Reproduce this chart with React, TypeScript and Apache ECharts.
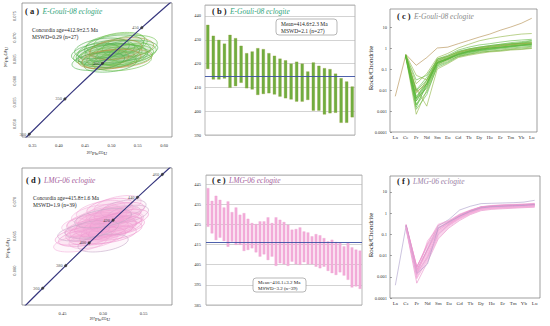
import { useEffect, useRef } from 'react';
import * as echarts from 'echarts';

const FONT = '"Liberation Serif", "DejaVu Serif", serif';

const reeElements = ['La', 'Ce', 'Pr', 'Nd', 'Sm', 'Eu', 'Gd', 'Tb', 'Dy', 'Ho', 'Er', 'Tm', 'Yb', 'Lu'];

// Concordia curve (age Ma, 207Pb/235U, 206Pb/238U)
const concAges = [280, 300, 340, 350, 360, 380, 400, 420, 440, 450, 460, 480, 500];
const concX = [0.31752, 0.34374, 0.39773, 0.41156, 0.42553, 0.45389, 0.48281, 0.51231, 0.54239, 0.55766, 0.57307, 0.60437, 0.63628];
const concY = [0.044392, 0.047637, 0.054158, 0.055795, 0.057434, 0.060719, 0.064016, 0.067322, 0.070638, 0.0723, 0.073965, 0.077302, 0.08065];
const concLabelsA = [300, 350, 400, 450];
const concLabelsD = [360, 380, 400, 420, 440, 460];

// error ellipses: [207/235, 206/238, sigmaX, sigmaY, rho]
const ellipsesA = [
  [0.5, 0.0662, 0.058, 0.0024, 0.3], [0.512, 0.0668, 0.062, 0.0026, 0.25], [0.488, 0.0655, 0.055, 0.0022, 0.35],
  [0.52, 0.0675, 0.06, 0.0025, 0.3], [0.495, 0.0648, 0.052, 0.0021, 0.3], [0.53, 0.067, 0.058, 0.0024, 0.28],
  [0.478, 0.066, 0.05, 0.0023, 0.32], [0.505, 0.068, 0.056, 0.0026, 0.3], [0.515, 0.0652, 0.062, 0.0022, 0.25],
  [0.49, 0.067, 0.054, 0.0024, 0.35], [0.525, 0.066, 0.055, 0.0023, 0.3], [0.498, 0.064, 0.05, 0.002, 0.3],
  [0.51, 0.0685, 0.058, 0.0024, 0.28], [0.485, 0.065, 0.048, 0.0021, 0.33], [0.535, 0.068, 0.052, 0.0025, 0.3],
  [0.503, 0.0658, 0.066, 0.0027, 0.25], [0.52, 0.0645, 0.056, 0.0022, 0.3], [0.47, 0.0665, 0.046, 0.0022, 0.35],
  [0.508, 0.0672, 0.05, 0.0023, 0.3], [0.493, 0.0662, 0.06, 0.0025, 0.3], [0.528, 0.0655, 0.05, 0.0021, 0.28],
  [0.482, 0.0675, 0.052, 0.0024, 0.32], [0.515, 0.069, 0.048, 0.0022, 0.3], [0.5, 0.065, 0.056, 0.0023, 0.3],
  [0.54, 0.0665, 0.045, 0.0022, 0.3], [0.475, 0.0645, 0.05, 0.0021, 0.35], [0.512, 0.066, 0.054, 0.0024, 0.28],
];
const ellipsesD = [
  [0.5, 0.0668, 0.033, 0.0014, 0.45], [0.485, 0.0655, 0.031, 0.0013, 0.45], [0.515, 0.068, 0.032, 0.0014, 0.45],
  [0.495, 0.066, 0.036, 0.0015, 0.4], [0.52, 0.0672, 0.03, 0.0013, 0.45], [0.478, 0.0648, 0.033, 0.0013, 0.45],
  [0.508, 0.0685, 0.029, 0.0014, 0.5], [0.49, 0.067, 0.035, 0.0014, 0.4], [0.525, 0.069, 0.028, 0.0013, 0.45],
  [0.505, 0.0658, 0.032, 0.0013, 0.45], [0.472, 0.064, 0.033, 0.0013, 0.45], [0.512, 0.0665, 0.036, 0.0015, 0.4],
  [0.498, 0.0678, 0.031, 0.0014, 0.45], [0.482, 0.0662, 0.029, 0.0013, 0.5], [0.53, 0.0682, 0.026, 0.0013, 0.45],
  [0.493, 0.065, 0.035, 0.0013, 0.4], [0.518, 0.0695, 0.029, 0.0014, 0.45], [0.502, 0.0674, 0.033, 0.0014, 0.45],
  [0.488, 0.0645, 0.03, 0.0013, 0.45], [0.51, 0.0662, 0.031, 0.0014, 0.45], [0.476, 0.0656, 0.032, 0.0013, 0.45],
  [0.522, 0.0665, 0.029, 0.0013, 0.4], [0.497, 0.0688, 0.03, 0.0014, 0.5], [0.506, 0.0652, 0.035, 0.0013, 0.45],
  [0.484, 0.0672, 0.028, 0.0013, 0.45], [0.515, 0.0658, 0.033, 0.0014, 0.45], [0.5, 0.064, 0.031, 0.0013, 0.4],
  [0.528, 0.0676, 0.028, 0.0013, 0.45], [0.492, 0.0682, 0.031, 0.0014, 0.45], [0.47, 0.065, 0.029, 0.0013, 0.45],
  [0.512, 0.0678, 0.034, 0.0014, 0.45], [0.503, 0.0664, 0.038, 0.0015, 0.4], [0.486, 0.066, 0.033, 0.0013, 0.45],
  [0.52, 0.0685, 0.031, 0.0014, 0.5], [0.495, 0.0654, 0.033, 0.0013, 0.45], [0.508, 0.0692, 0.028, 0.0013, 0.45],
  [0.48, 0.0668, 0.031, 0.0013, 0.45], [0.516, 0.067, 0.032, 0.0014, 0.45], [0.5, 0.0676, 0.035, 0.0014, 0.45],
];

// 206Pb/238U ages (Ma), error bars
const lowB = [417.8, 413.4, 413.4, 413.8, 409.9, 410.6, 412.0, 409.7, 409.2, 406.9, 407.3, 407.6, 407.1, 406.2, 405.5, 405.0, 404.1, 404.1, 404.8, 400.3, 400.3, 398.7, 399.2, 399.4, 395.2, 395.2, 397.5];
const highB = [436.2, 431.6, 429.9, 428.3, 432.0, 430.6, 427.4, 424.3, 425.0, 426.4, 426.0, 424.3, 423.2, 422.0, 421.3, 419.9, 420.7, 419.9, 416.6, 420.4, 419.0, 418.0, 417.6, 415.7, 413.8, 412.4, 410.3];
const meanB = 414.6;
const lowE = [423.9, 420.6, 417.3, 418.5, 416.8, 414.0, 416.5, 414.9, 414.9, 411.9, 412.4, 413.2, 411.2, 409.1, 410.2, 407.4, 409.1, 404.5, 405.8, 405.3, 404.5, 406.6, 405.3, 405.0, 406.3, 405.3, 405.3, 404.1, 403.3, 404.1, 402.0, 400.9, 400.0, 401.3, 399.7, 397.6, 393.8, 394.3, 393.1];
const highE = [442.9, 436.6, 439.1, 437.1, 433.3, 436.3, 431.0, 433.3, 429.7, 430.5, 427.7, 425.6, 425.1, 426.4, 426.4, 428.4, 425.6, 428.4, 427.2, 426.1, 424.7, 422.3, 422.6, 423.4, 421.4, 420.9, 419.0, 420.1, 419.5, 418.1, 416.5, 417.3, 416.2, 415.7, 414.0, 415.7, 413.5, 412.4, 411.9];
const meanE = 416.1;

// Chondrite-normalised REE patterns
const reeC = [
  [null, 0.5, 0.15, 0.35, 1.0, 1.1, 1.6, 2.3, 3.3, 4.6, 7, 10, 15, 26],
  [null, 0.45, 0.02, 0.06, 0.35, 0.55, 1.0, 1.5, 2.2, 2.8, 3.4, 4.0, 4.6, 4.9],
  [0.005, 0.45, 0.008, 0.02, 0.2, 0.3, 0.5, 0.7, 0.9, 1.0, 1.2, 1.4, 1.6, 1.8],
  [null, 0.4, 0.003, 0.015, 0.22, 0.3, 0.55, 0.75, 0.9, 1.1, 1.3, 1.5, 1.7, 2.0],
  [null, 0.42, 0.005, 0.02, 0.18, 0.28, 0.45, 0.6, 0.75, 0.85, 1.0, 1.1, 1.3, 1.4],
  [null, 0.38, 0.0007, 0.01, 0.15, 0.25, 0.4, 0.5, 0.65, 0.7, 0.8, 0.9, 1.0, 1.1],
  [null, 0.45, 0.004, 0.03, 0.25, 0.35, 0.6, 0.8, 1.0, 1.2, 1.4, 1.6, 1.8, 2.2],
  [null, 0.4, 0.01, 0.04, 0.3, 0.4, 0.7, 0.9, 1.1, 1.3, 1.5, 1.8, 2.0, 2.3],
  [null, 0.35, 0.002, 0.008, 0.12, 0.2, 0.38, 0.5, 0.6, 0.7, 0.75, 0.85, 0.9, 1.0],
  [null, 0.4, 0.012, 0.0017, 0.1, 0.18, 0.35, 0.45, 0.55, 0.65, 0.7, 0.8, 0.85, 0.95],
  [null, 0.45, 0.03, 0.05, 0.25, 0.4, 0.65, 0.9, 1.1, 1.3, 1.5, 1.6, 1.7, 1.8],
  [null, 0.5, 0.0015, 0.02, 0.2, 0.32, 0.55, 0.7, 0.85, 1.0, 1.1, 1.2, 1.4, 1.5],
  [null, 0.42, 0.004, 0.012, 0.16, 0.3, 0.5, 0.65, 0.8, 0.9, 1.05, 1.2, 1.35, 1.5],
  [null, 0.48, 0.007, 0.025, 0.22, 0.35, 0.6, 0.85, 1.05, 1.2, 1.35, 1.5, 1.6, 1.7],
  [null, 0.4, 0.003, 0.02, 0.3, 0.45, 0.8, 1.1, 1.4, 1.6, 1.9, 2.2, 2.4, 2.6],
  [null, 0.44, 0.002, 0.015, 0.18, 0.28, 0.48, 0.62, 0.78, 0.9, 1.0, 1.15, 1.25, 1.3],
  [null, 0.46, 0.009, 0.03, 0.2, 0.3, 0.5, 0.7, 0.85, 1.0, 1.1, 1.25, 1.4, 1.6],
  [null, 0.5, 0.05, 0.03, 0.28, 0.4, 0.65, 0.8, 0.95, 1.1, 1.25, 1.4, 1.55, 1.7],
  [null, 0.38, 0.0012, 0.006, 0.14, 0.22, 0.42, 0.55, 0.7, 0.8, 0.9, 1.0, 1.1, 1.2],
  [null, 0.45, 0.004, 0.02, 0.2, 0.33, 0.5, 0.68, 0.85, 0.98, 1.1, 1.3, 1.4, 1.55],
];
const reeF = [
  [null, 0.25, 0.002, 0.02, 0.25, 0.5, 1.4, 2.1, 2.8, 2.9, 3.0, 3.1, 3.3, 4.0],
  [0.0004, 0.25, 0.0015, 0.008, 0.1, 0.3, 0.7, 1.3, 2.0, 2.2, 2.3, 2.4, 2.5, 2.6],
  [null, 0.22, 0.0012, 0.01, 0.12, 0.3, 0.6, 1.1, 1.6, 1.8, 1.9, 2.0, 2.1, 2.2],
  [null, 0.28, 0.003, 0.03, 0.2, 0.4, 0.8, 1.3, 1.9, 2.1, 2.2, 2.3, 2.4, 2.6],
  [null, 0.2, 0.0008, 0.006, 0.08, 0.25, 0.55, 1.0, 1.5, 1.7, 1.8, 1.9, 2.0, 2.1],
  [null, 0.25, 0.002, 0.015, 0.15, 0.35, 0.7, 1.2, 1.8, 2.0, 2.1, 2.2, 2.3, 2.4],
  [null, 0.18, 0.0005, 0.005, 0.06, 0.2, 0.45, 0.85, 1.3, 1.5, 1.6, 1.7, 1.8, 1.9],
  [null, 0.3, 0.0025, 0.04, 0.3, 0.45, 0.9, 1.4, 2.0, 2.3, 2.5, 2.6, 2.7, 2.9],
  [null, 0.22, 0.0018, 0.012, 0.1, 0.28, 0.6, 1.05, 1.6, 1.85, 2.0, 2.1, 2.2, 2.3],
  [null, 0.26, 0.0015, 0.02, 0.18, 0.38, 0.75, 1.25, 1.85, 2.05, 2.15, 2.25, 2.35, 2.5],
  [null, 0.2, 0.001, 0.008, 0.09, 0.26, 0.55, 0.95, 1.45, 1.65, 1.75, 1.85, 1.95, 2.0],
  [null, 0.24, 0.003, 0.025, 0.22, 0.4, 0.8, 1.3, 1.9, 2.15, 2.3, 2.4, 2.5, 2.7],
  [null, 0.27, 0.0022, 0.018, 0.16, 0.34, 0.68, 1.15, 1.7, 1.95, 2.05, 2.15, 2.25, 2.4],
  [null, 0.21, 0.0012, 0.05, 0.2, 0.32, 0.65, 1.1, 1.65, 1.9, 2.0, 2.1, 2.2, 2.3],
  [null, 0.23, 0.0016, 0.01, 0.13, 0.3, 0.62, 1.08, 1.62, 1.85, 1.95, 2.05, 2.15, 2.3],
  [null, 0.29, 0.0028, 0.035, 0.27, 0.42, 0.85, 1.35, 1.95, 2.2, 2.4, 2.5, 2.6, 2.8],
  [null, 0.19, 0.0009, 0.007, 0.07, 0.22, 0.5, 0.9, 1.4, 1.6, 1.7, 1.8, 1.9, 2.0],
  [null, 0.25, 0.002, 0.014, 0.14, 0.33, 0.66, 1.12, 1.68, 1.9, 2.0, 2.1, 2.2, 2.35],
  [null, 0.26, 0.0014, 0.004, 0.2, 0.38, 0.72, 1.2, 1.75, 2.0, 2.1, 2.2, 2.3, 2.5],
  [null, 0.22, 0.0013, 0.009, 0.11, 0.27, 0.58, 1.0, 1.55, 1.75, 1.85, 1.95, 2.05, 2.15],
];

const TEAL = '#33a57c';
const MAUVE = '#a65f9d';

function ellipseSeries(idx: number, data: number[][], colorFn: (i: number) => string, fill: string) {
  return {
    type: 'custom',
    xAxisIndex: idx,
    yAxisIndex: idx,
    clip: true,
    data,
    renderItem: (params: any, api: any) => {
      const cx = api.value(0), cy = api.value(1), sx = api.value(2), sy = api.value(3), r = api.value(4);
      const pts: number[][] = [];
      const q = Math.sqrt(1 - r * r);
      for (let k = 0; k < 60; k++) {
        const t = (k / 60) * Math.PI * 2;
        pts.push(api.coord([cx + sx * Math.cos(t), cy + sy * (r * Math.cos(t) + q * Math.sin(t))]));
      }
      return {
        type: 'polygon',
        shape: { points: pts },
        style: { fill, stroke: colorFn(params.dataIndex), lineWidth: 0.6 },
      };
    },
  };
}

function barSeries(idx: number, low: number[], high: number[], mean: number, fill: string, stroke: string, frac: number) {
  return {
    type: 'custom',
    xAxisIndex: idx,
    yAxisIndex: idx,
    data: low.map((lo, i) => [i, lo, high[i]]),
    renderItem: (params: any, api: any) => {
      const top = api.coord([api.value(0), api.value(2)]);
      const bot = api.coord([api.value(0), api.value(1)]);
      const w = api.size([1, 0])[0] * frac;
      return {
        type: 'rect',
        shape: { x: top[0] - w / 2, y: top[1], width: w, height: bot[1] - top[1] },
        style: { fill, stroke, lineWidth: 0.3 },
      };
    },
    markLine: {
      silent: true,
      symbol: 'none',
      label: { show: false },
      lineStyle: { color: '#3a4fa3', width: 0.9, type: 'solid' },
      data: [{ yAxis: mean }],
    },
  };
}

function concordia(idx: number, labels: number[]) {
  return [
    {
      type: 'line',
      xAxisIndex: idx,
      yAxisIndex: idx,
      symbol: 'none',
      lineStyle: { color: '#38387f', width: 1.2 },
      data: concAges.map((_, i) => [concX[i], concY[i]]),
      z: 5,
    },
    {
      type: 'scatter',
      xAxisIndex: idx,
      yAxisIndex: idx,
      symbol: 'circle',
      symbolSize: 2.6,
      itemStyle: { color: '#333', borderColor: '#222', borderWidth: 0.4 },
      label: { show: true, position: 'left', distance: 1.5, fontSize: 4.5, color: '#222', fontFamily: FONT, formatter: (p: any) => String(p.value[2]) },
      data: labels.map((a) => {
        const i = concAges.indexOf(a);
        return [concX[i], concY[i], a];
      }),
      z: 6,
    },
  ];
}

function reeSeries(idx: number, rows: (number | null)[][], colorFn: (i: number) => string) {
  return rows.map((row, i) => ({
    type: 'line',
    xAxisIndex: idx,
    yAxisIndex: idx,
    symbol: 'none',
    connectNulls: false,
    lineStyle: { color: colorFn(i), width: 0.6 },
    data: row.map((v) => (v == null ? '-' : v)),
  }));
}

const tickLabel = { fontSize: 4.5, color: '#333', fontFamily: FONT };

function titleText(x: number, y: number, letter: string, name: string, color: string) {
  return {
    type: 'text',
    x,
    y,
    z: 100,
    style: {
      text: `{p|( ${letter} )} {n|${name}}`,
      verticalAlign: 'middle',
      rich: {
        p: { fontSize: 8.5, fontFamily: FONT, fill: '#222', fontWeight: 'bold' },
        n: { fontSize: 7.5, fontFamily: FONT, fill: color, fontStyle: 'italic' },
      },
    },
  };
}

function plainText(x: number, y: number, text: string, size: number, extra: any = {}) {
  return {
    type: 'text',
    x,
    y,
    z: 100,
    ...extra,
    style: { text, fontSize: size, fontFamily: FONT, fill: '#222', verticalAlign: 'middle', ...(extra.style || {}) },
  };
}

export default function App() {
  const ref = useRef<HTMLDivElement>(null);
  useEffect(() => {
    if (!ref.current) return;
    const chart = echarts.init(ref.current, undefined, { renderer: 'svg' });
    const gridStyle = { show: true, borderColor: '#777', borderWidth: 0.7, backgroundColor: 'transparent' };
    const option: any = {
      animation: false,
      backgroundColor: '#fff',
      textStyle: { fontFamily: FONT },
      grid: [
        { left: 22, top: 3, width: 150, height: 134, ...gridStyle },
        { left: 205, top: 5, width: 150, height: 130, ...gridStyle, borderColor: '#999' },
        { left: 390, top: 9, width: 147, height: 123, ...gridStyle },
        { left: 22, top: 168, width: 150, height: 137, ...gridStyle },
        { left: 206, top: 175, width: 156, height: 130, ...gridStyle, borderColor: '#999' },
        { left: 390, top: 176, width: 150, height: 122, ...gridStyle },
      ],
      xAxis: [
        {
          gridIndex: 0, type: 'value', min: 0.33, max: 0.615, interval: 0.01,
          axisLine: { show: false }, axisTick: { show: false }, splitLine: { show: false },
          axisLabel: { ...tickLabel, margin: 6, formatter: (v: number) => (Math.round(v * 100) % 5 === 0 ? v.toFixed(2) : '') },
        },
        {
          gridIndex: 1, type: 'category', data: lowB.map((_, i) => String(i + 1)), boundaryGap: true,
          axisLine: { show: false }, axisTick: { show: false }, axisLabel: { show: false },
        },
        {
          gridIndex: 2, type: 'category', data: reeElements, boundaryGap: true,
          axisLine: { show: false }, axisTick: { show: false },
          axisLabel: { fontSize: 5, color: '#333', fontFamily: FONT, margin: 3, interval: 0 },
        },
        {
          gridIndex: 3, type: 'value', min: 0.4, max: 0.585, interval: 0.05,
          axisLine: { show: false }, axisTick: { show: false }, splitLine: { show: false },
          axisLabel: { ...tickLabel, margin: 6, showMinLabel: false, showMaxLabel: false, formatter: (v: number) => v.toFixed(2) },
        },
        {
          gridIndex: 4, type: 'category', data: lowE.map((_, i) => String(i + 1)), boundaryGap: true,
          axisLine: { show: false }, axisTick: { show: false }, axisLabel: { show: false },
        },
        {
          gridIndex: 5, type: 'category', data: reeElements, boundaryGap: true,
          axisLine: { show: false }, axisTick: { show: false },
          axisLabel: { fontSize: 5, color: '#333', fontFamily: FONT, margin: 3, interval: 0 },
        },
      ],
      yAxis: [
        {
          gridIndex: 0, type: 'value', min: 0.047, max: 0.078, interval: 0.001,
          axisLine: { show: false }, axisTick: { show: false }, splitLine: { show: false },
          axisLabel: { ...tickLabel, rotate: 90, margin: 5, formatter: (v: number) => (Math.round(v * 1000) % 5 === 0 ? v.toFixed(3) : '') },
        },
        {
          gridIndex: 1, type: 'value', min: 390, max: 444.6, interval: 10,
          axisLine: { show: false }, axisTick: { show: false },
          splitLine: { show: true, lineStyle: { color: '#b5b5b5', width: 0.6 } },
          axisLabel: { ...tickLabel, margin: 4, showMaxLabel: false },
        },
        {
          gridIndex: 2, type: 'log', logBase: 10, min: 0.0001, max: 72,
          axisLine: { show: false }, axisTick: { show: true, inside: true, length: 2, lineStyle: { color: '#555', width: 0.5 } },
          splitLine: { show: false },
          axisLabel: { ...tickLabel, margin: 3, showMaxLabel: false, formatter: (v: number) => String(parseFloat(Number(v).toPrecision(4))) },
        },
        {
          gridIndex: 3, type: 'value', min: 0.055, max: 0.0749, interval: 0.005,
          axisLine: { show: false }, axisTick: { show: false }, splitLine: { show: false },
          axisLabel: { ...tickLabel, rotate: 90, margin: 5, showMinLabel: false, showMaxLabel: false, formatter: (v: number) => v.toFixed(3) },
        },
        {
          gridIndex: 4, type: 'value', min: 385, max: 449.5, interval: 10,
          axisLine: { show: false }, axisTick: { show: false },
          splitLine: { show: true, lineStyle: { color: '#b5b5b5', width: 0.6 } },
          axisLabel: { ...tickLabel, margin: 5, showMaxLabel: false },
        },
        {
          gridIndex: 5, type: 'log', logBase: 10, min: 0.0001, max: 56,
          axisLine: { show: false }, axisTick: { show: true, inside: true, length: 2, lineStyle: { color: '#555', width: 0.5 } },
          splitLine: { show: false },
          axisLabel: { ...tickLabel, margin: 3, showMaxLabel: false, formatter: (v: number) => String(parseFloat(Number(v).toPrecision(4))) },
        },
      ],
      series: [
        ellipseSeries(0, ellipsesA, (i) => (i % 5 === 3 ? '#c08a3c' : i % 2 ? '#4bb04a' : '#6cc14a'), 'rgba(130,205,110,0.05)'),
        ...concordia(0, concLabelsA),
        barSeries(1, lowB, highB, meanB, '#6fae40', '#9a9a34', 0.5),
        ...reeSeries(2, reeC, (i) => (i === 0 || i === 2 ? '#b08a48' : i % 4 === 1 ? '#8db33f' : '#5cb83c')),
        ellipseSeries(3, ellipsesD, (i) => (i % 6 === 2 ? '#c4aac8' : i % 2 ? '#ef9bd0' : '#f3b2dc'), 'rgba(245,170,215,0.1)'),
        ...concordia(3, concLabelsD),
        barSeries(4, lowE, highE, meanE, '#f3acd9', '#eaa0cf', 0.6),
        ...reeSeries(5, reeF, (i) => (i === 0 || i === 1 || i === 18 ? '#aa9cc9' : i % 3 === 0 ? '#e88ac6' : '#f4a7d8')),
      ],
      graphic: [
        titleText(25, 11, 'a', 'E-Gouli-08 eclogite', TEAL),
        titleText(212, 11, 'b', 'E-Gouli-08 eclogite', TEAL),
        titleText(397, 16, 'c', 'E-Gouli-08 eclogite', '#8a8a8a'),
        titleText(26, 180, 'd', 'LMG-06 eclogite', MAUVE),
        titleText(212, 180, 'e', 'LMG-06 eclogite', MAUVE),
        titleText(397, 181, 'f', 'LMG-06 eclogite', '#9a7fa6'),
        plainText(32, 30, 'Concordia age=412.9±2.5 Ma', 5.5),
        plainText(32, 37, 'MSWD=0.29 (n=27)', 5.5),
        plainText(33, 198, 'Concordia age=415.8±1.6 Ma', 5.5),
        plainText(33, 205, 'MSWD=1.9 (n=39)', 5.5),
        {
          type: 'rect', z: 99,
          shape: { x: 276, y: 19, width: 61, height: 16, r: 3 },
          style: { fill: '#fff', stroke: '#888', lineWidth: 0.6 },
        },
        plainText(281, 24, 'Mean=414.6±2.3 Ma', 5.5),
        plainText(281, 30.5, 'MSWD=2.1 (n=27)', 5.5),
        {
          type: 'rect', z: 99,
          shape: { x: 253, y: 278, width: 53, height: 14, r: 3 },
          style: { fill: '#fff', stroke: '#888', lineWidth: 0.6 },
        },
        plainText(258, 282, 'Mean=416.1±3.2 Ma', 5),
        plainText(258, 288, 'MSWD=3.2 (n=39)', 5),
        plainText(97, 153, '²⁰⁷Pb/²³⁵U', 5, { style: { align: 'center' } }),
        plainText(6, 57, '²⁰⁶Pb/²³⁸U', 5, { rotation: Math.PI / 2, style: { align: 'center' } }),
        plainText(100, 319, '²⁰⁷Pb/²³⁵U', 5, { style: { align: 'center' } }),
        plainText(8, 248, '²⁰⁶Pb/²³⁸U', 5, { rotation: Math.PI / 2, style: { align: 'center' } }),
        plainText(371, 68, 'Rock/Chondrite', 7, { rotation: Math.PI / 2, style: { align: 'center' } }),
        plainText(371, 235, 'Rock/Chondrite', 7, { rotation: Math.PI / 2, style: { align: 'center' } }),
      ],
    };
    chart.setOption(option);
    return () => chart.dispose();
  }, []);
  return <div ref={ref} style={{ position: 'absolute', left: 0, top: 0, width: 550, height: 326 }} />;
}
